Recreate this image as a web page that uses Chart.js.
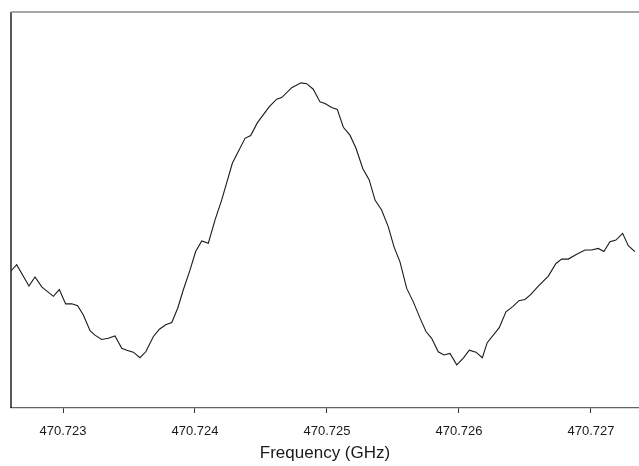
<!DOCTYPE html>
<html>
<head>
<meta charset="utf-8">
<script src="https://cdn.jsdelivr.net/npm/chart.js@4/dist/chart.umd.min.js"></script>
<style>
  html, body { margin: 0; padding: 0; background: #fff; }
  #wrap { width: 639px; height: 466px; position: relative; }
</style>
</head>
<body>
<div id="wrap"><canvas id="chart"></canvas></div>
<script>
// frequency (GHz)
const freqGHz = [
  470.722606, 470.722649, 470.722742, 470.722788, 470.722839, 470.722927, 470.722972,
  470.723020, 470.723066, 470.723111, 470.723154, 470.723205, 470.723242, 470.723293,
  470.723343, 470.723394, 470.723445, 470.723483, 470.723533, 470.723583, 470.723627,
  470.723684, 470.723730, 470.723778, 470.723824, 470.723869, 470.723911, 470.723962,
  470.724005, 470.724051, 470.724101, 470.724152, 470.724202, 470.724283, 470.724379,
  470.724422, 470.724472, 470.724563, 470.724619, 470.724657, 470.724733, 470.724803,
  470.724846, 470.724896, 470.724947, 470.724985, 470.725036, 470.725078, 470.725124,
  470.725174, 470.725220, 470.725271, 470.725320, 470.725364, 470.725414, 470.725464,
  470.725508, 470.725553, 470.725604, 470.725654, 470.725705, 470.725750, 470.725793,
  470.725843, 470.725886, 470.725932, 470.725983, 470.726033, 470.726078, 470.726129,
  470.726177, 470.726214, 470.726305, 470.726356, 470.726407, 470.726455, 470.726500,
  470.726545, 470.726601, 470.726677, 470.726735, 470.726778, 470.726828, 470.726892,
  470.726955, 470.727005, 470.727055, 470.727098, 470.727144, 470.727189, 470.727240,
  470.727283, 470.727333
]

// signal, arbitrary units (0 = bottom axis, 100 = top frame)
const intensity = [
  34.6, 36.2, 30.8, 33.1, 30.6, 28.2, 29.9,
  26.3, 26.3, 25.8, 23.5, 19.5, 18.4, 17.3,
  17.6, 18.2, 15.1, 14.6, 14.1, 12.7, 14.2,
  18.0, 19.9, 21.0, 21.6, 25.2, 29.8, 34.8,
  39.5, 42.2, 41.6, 47.5, 52.5, 61.8, 68.1,
  68.8, 72.0, 76.1, 78.0, 78.4, 80.9, 82.1,
  81.9, 80.5, 77.3, 76.9, 75.9, 75.4, 70.9,
  68.9, 65.6, 60.5, 57.6, 52.5, 50.0, 45.8,
  40.7, 36.9, 30.2, 26.8, 22.7, 19.3, 17.6,
  14.2, 13.4, 13.8, 10.9, 12.6, 14.6, 14.1,
  12.7, 16.5, 20.3, 24.3, 25.6, 27.1, 27.4,
  28.7, 30.8, 33.3, 36.5, 37.6, 37.6, 38.8,
  39.9, 39.9, 40.3, 39.5, 42.0, 42.4, 44.1,
  41.0, 39.5
]

const xTicks = [470.723, 470.724, 470.725, 470.726, 470.727]
const xMin = 470.722606
const xMax = 470.727364

// left axis and thin grey top edge of the frame
const frame = {
  id: 'frame',
  afterDraw (chart) {
    const { ctx, chartArea } = chart
    ctx.save()
    ctx.strokeStyle = '#222'
    ctx.lineWidth = 1.5
    ctx.beginPath()
    ctx.moveTo(chartArea.left, chartArea.top)
    ctx.lineTo(chartArea.left, chartArea.bottom)
    ctx.stroke()
    ctx.strokeStyle = '#8a8a8a'
    ctx.beginPath()
    ctx.moveTo(chartArea.left, chartArea.top)
    ctx.lineTo(chartArea.right, chartArea.top)
    ctx.stroke()
    ctx.restore()
  }
}

new Chart(document.getElementById('chart'), {
  type: 'line',
  data: {
    datasets: [{
      data: freqGHz.map((f, i) => ({ x: f, y: intensity[i] })),
      borderColor: '#1a1a1a',
      borderWidth: 1.1,
      pointRadius: 0,
      tension: 0,
      fill: false
    }]
  },
  options: {
    responsive: true,
    maintainAspectRatio: false,
    animation: false,
    events: [],
    layout: {
      padding: { left: 11, top: 12, right: 0, bottom: 0 }
    },
    plugins: {
      legend: { display: false },
      tooltip: { enabled: false }
    },
    scales: {
      x: {
        type: 'linear',
        min: xMin,
        max: xMax,
        afterBuildTicks: (scale) => {
          scale.ticks = xTicks.map((value) => ({ value }))
        },
        afterFit: (scale) => {
          scale.height = 58
        },
        grid: {
          drawOnChartArea: false,
          drawTicks: true,
          tickLength: 5,
          tickColor: '#333',
          tickWidth: 1
        },
        border: {
          display: true,
          color: '#666',
          width: 1.2
        },
        ticks: {
          padding: 11,
          maxRotation: 0,
          autoSkip: false,
          color: '#1a1a1a',
          font: { family: 'Liberation Sans', size: 13 },
          callback: (value) => Number(value).toFixed(3)
        },
        title: {
          display: true,
          text: 'Frequency (GHz)',
          color: '#1a1a1a',
          font: { family: 'Liberation Sans', size: 17 },
          padding: { top: 4, bottom: 2 }
        }
      },
      y: {
        display: false,
        min: 0,
        max: 100
      }
    }
  },
  plugins: [frame]
})
</script>
</body>
</html>
